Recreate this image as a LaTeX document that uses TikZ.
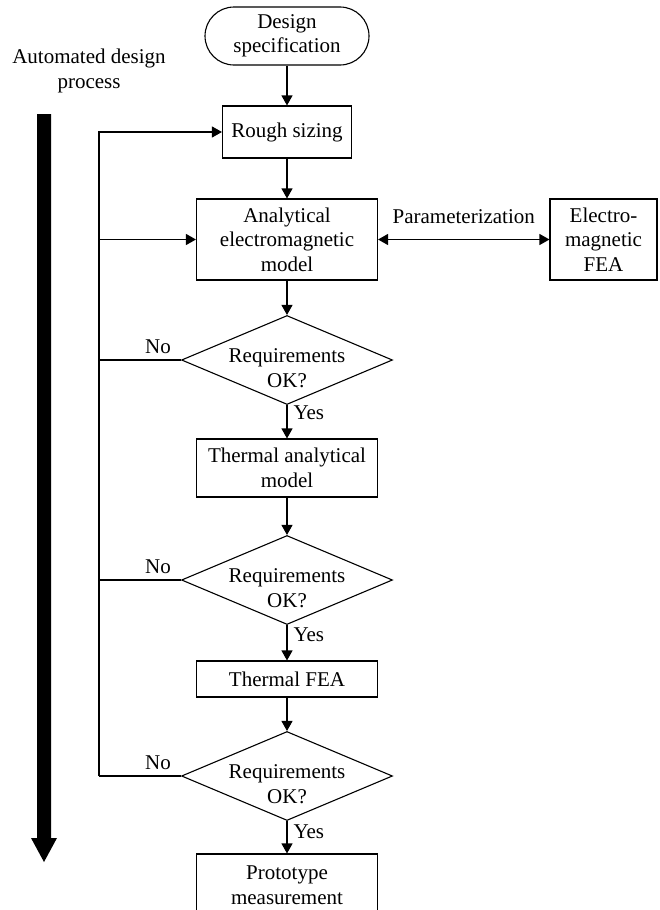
\documentclass[tikz,border=0pt]{standalone}
\usepackage{fontspec}
\setmainfont{Liberation Serif}
\usetikzlibrary{shapes.geometric,arrows.meta}
\begin{document}
\begin{tikzpicture}[x=1pt,y=-1pt,
  every node/.style={font=\fontsize{21}{24.5}\selectfont},
  line width=1.1pt,
  box/.style={draw, inner sep=0pt, align=center, minimum width=181pt},
  decision/.style={draw, diamond, inner sep=0pt, minimum width=211pt, minimum height=89pt},
  dtext/.style={align=center, yshift=-8pt},
  arr/.style={-{Triangle[length=10pt,width=11pt]}},
  barr/.style={{Triangle[length=10pt,width=11pt]}-{Triangle[length=10pt,width=11pt]}},
  lbl/.style={inner sep=0pt, anchor=base}
]
\useasboundingbox (0,0) rectangle (660,910);
\clip (0,0) rectangle (660,910);

% title and big arrow
\node[align=center] (title) at (89,71) {Automated design\\process};
\fill (37,114) -- (51,114) -- (51,838) -- (57,838) -- (44,862) -- (31,838) -- (37,838) -- cycle;

% nodes
\node[draw, rounded corners=29pt, inner sep=0pt, align=center, minimum width=164pt, minimum height=58pt] (ds) at (287,36) {Design\\specification};
\node[box, minimum width=129pt, minimum height=52pt] (rs) at (287,132) {Rough sizing};
\node[box, minimum height=81pt] (am) at (287,239.5) {Analytical\\electromagnetic\\model};
\node[box, minimum width=107pt, minimum height=81pt] (fea) at (603.5,239.5) {Electro-\\magnetic\\FEA};
\node[decision, label={[dtext]center:Requirements\\OK?}] (d1) at (287,360) {};
\node[box, minimum height=58pt] (ta) at (287,468) {Thermal analytical\\model};
\node[decision, label={[dtext]center:Requirements\\OK?}] (d2) at (287,580) {};
\node[box, minimum height=36pt] (tf) at (287,679) {Thermal FEA};
\node[decision, label={[dtext]center:Requirements\\OK?}] (d3) at (287,776) {};
\node[box, minimum height=62pt] (pm) at (287,885) {Prototype\\measurement};

% feedback coordinates
\coordinate (fb1) at (99,360);
\coordinate (fb2) at (99,580);
\coordinate (fb3) at (99,776);
\coordinate (fbA) at (99,239.5);

% main flow
\draw[arr] (ds) -- (rs);
\draw[arr] (rs) -- (am);
\draw[arr] (am) -- (d1);
\draw[arr] (d1) -- node[pos=0, lbl, anchor=base west, xshift=6pt, yshift=-14pt] {Yes} (ta);
\draw[arr] (ta) -- (d2);
\draw[arr] (d2) -- node[pos=0, lbl, anchor=base west, xshift=6pt, yshift=-16pt] {Yes} (tf);
\draw[arr] (tf) -- (d3);
\draw[arr] (d3) -- node[pos=0, lbl, anchor=base west, xshift=6pt, yshift=-17pt] {Yes} (pm);

% parameterization
\draw[barr] (am) -- node[midway, lbl, yshift=16pt] {Parameterization} (fea);

% feedback loops
\draw (d1.west) -- node[pos=0.28, lbl, yshift=7pt] {No} (fb1);
\draw (d2.west) -- node[pos=0.28, lbl, yshift=7pt] {No} (fb2);
\draw (d3.west) -- node[pos=0.28, lbl, yshift=7pt] {No} (fb3);
\draw[arr] (fb3) |- (rs.west);
\draw[arr] (fbA) -- (am.west);
\end{tikzpicture}
\end{document}
